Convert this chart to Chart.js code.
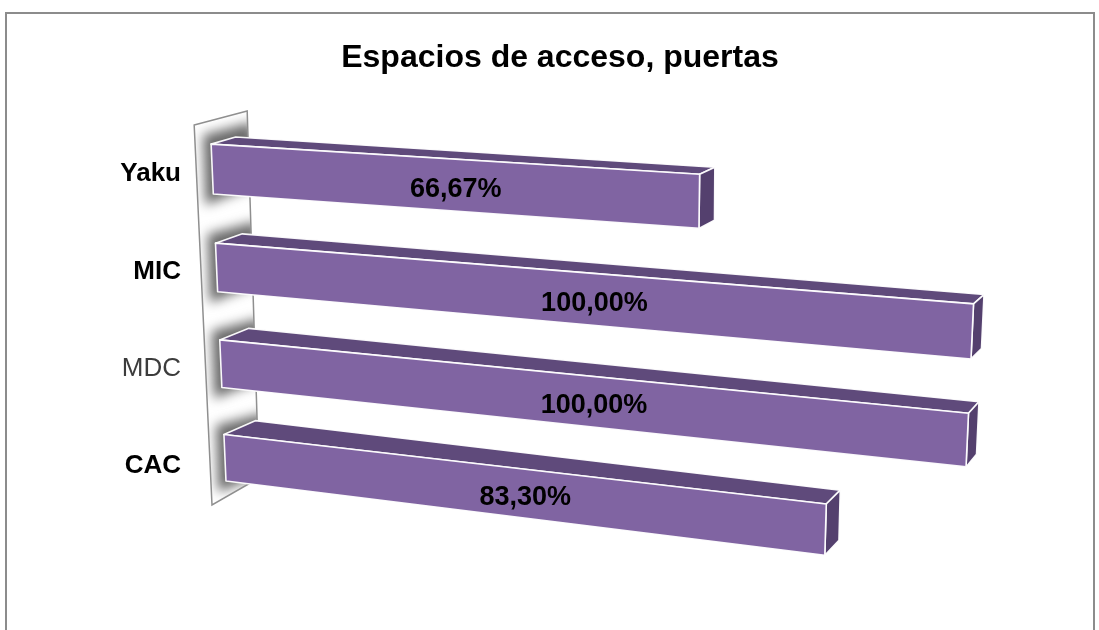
<!DOCTYPE html>
<html lang="es">
<head>
    <meta charset="UTF-8">
    <title>Espacios de acceso, puertas</title>
    <style>
        html, body { margin: 0; padding: 0; background: #fff; }
        #marco {
            position: absolute; left: 5px; top: 12px;
            width: 1090px; height: 700px;
            border: 2px solid #8c8c8c; box-sizing: border-box;
        }
        #lienzo { position: absolute; left: 0; top: 0; }
    </style>
</head>
<body>

<div id="marco"></div>
<canvas id="lienzo" width="1099" height="630"></canvas>

<script src="https://cdn.jsdelivr.net/npm/chart.js@4.4.1/dist/chart.umd.min.js"></script>
<script>
    // datos
    const sitios = ['Yaku', 'MIC', 'MDC', 'CAC'];
    const porcentajes = [66.67, 100, 100, 83.30];
    const rango = [0, 100];

    const fuente = "'Liberation Sans', Arial, Helvetica, sans-serif";

    // esquinas del plano frontal en pantalla: (0,0) (1,0) (1,1) (0,1)
    const vista = [[210, 119], [980, 163], [960, 598], [227, 504]];

    // homografia cuadrado unidad -> cuadrilatero
    function homografia(q) {
        const [x0, y0] = q[0], [x1, y1] = q[1], [x2, y2] = q[2], [x3, y3] = q[3];
        const dx1 = x1 - x2, dx2 = x3 - x2, dx3 = x0 - x1 + x2 - x3;
        const dy1 = y1 - y2, dy2 = y3 - y2, dy3 = y0 - y1 + y2 - y3;
        const den = dx1 * dy2 - dx2 * dy1;
        const g = (dx3 * dy2 - dx2 * dy3) / den;
        const h = (dx1 * dy3 - dx3 * dy1) / den;
        const a = x1 - x0 + g * x1, b = x3 - x0 + h * x3, c = x0;
        const d = y1 - y0 + g * y1, e = y3 - y0 + h * y3, f = y0;
        return function (u, v) {
            const w = g * u + h * v + 1;
            return [(a * u + b * v + c) / w, (d * u + e * v + f) / w];
        };
    }
    const proy = homografia(vista);

    // desplazamiento de la cara trasera (profundidad de la barra)
    function fondo(t, s) {
        const p = proy(t, s);
        const dx = (24 + 9 * s) * (1 - t) + 10.5 * t;
        const dy = -(6.5 + 9 * s);
        return [p[0] + dx, p[1] + dy];
    }

    function poligono(ctx, pts) {
        ctx.beginPath();
        ctx.moveTo(pts[0][0], pts[0][1]);
        for (let i = 1; i < pts.length; i++) ctx.lineTo(pts[i][0], pts[i][1]);
        ctx.closePath();
    }

    function geometria(chart) {
        const area = chart.chartArea;
        const T = x => (x - area.left) / (area.right - area.left);
        const S = y => (y - area.top) / (area.bottom - area.top);
        const meta = chart.getDatasetMeta(0);
        return meta.data.map(function (el, i) {
            const p = el.getProps(['x', 'y', 'base', 'height'], true);
            return {
                t0: T(p.base), t1: T(p.x),
                s0: S(p.y - p.height / 2), s1: S(p.y + p.height / 2),
                valor: chart.data.datasets[0].data[i]
            };
        });
    }

    const barras3d = {
        id: 'barras3d',
        beforeDatasetsDraw(chart) {
            const ctx = chart.ctx;
            const barras = geometria(chart);

            // pared lateral
            const f0 = proy(0, 0.01), f1 = proy(0, 1);
            const pared = [
                [f0[0] - 16, f0[1] + 2], [f0[0] + 37, f0[1] - 12],
                [f1[0] + 32, f1[1] - 26], [f1[0] - 15, f1[1] + 1]
            ];
            ctx.save();
            poligono(ctx, pared);
            ctx.fillStyle = '#ffffff';
            ctx.fill();
            ctx.clip();
            // sombra difusa donde apoya cada barra
            ctx.filter = 'blur(6px)';
            ctx.fillStyle = 'rgba(105,105,105,1)';
            barras.forEach(function (b) {
                const a = proy(0, b.s0), c = proy(0, b.s1);
                poligono(ctx, [
                    [a[0] - 8, a[1] - 9], [a[0] + 42, a[1] - 22],
                    [c[0] + 42, c[1] - 8], [c[0] - 8, c[1] + 11]
                ]);
                ctx.fill();
            });
            ctx.restore();

            ctx.save();
            poligono(ctx, pared);
            ctx.strokeStyle = '#8f8f8f';
            ctx.lineWidth = 1.5;
            ctx.stroke();
            ctx.restore();
        },
        afterDatasetsDraw(chart) {
            const ctx = chart.ctx;
            const barras = geometria(chart);
            ctx.save();
            ctx.lineJoin = 'round';
            ctx.strokeStyle = 'rgba(255,255,255,0.95)';
            ctx.lineWidth = 1.6;
            barras.forEach(function (b) {
                const ft0 = proy(b.t0, b.s0), ft1 = proy(b.t1, b.s0);
                const fb0 = proy(b.t0, b.s1), fb1 = proy(b.t1, b.s1);
                const bt0 = fondo(b.t0, b.s0), bt1 = fondo(b.t1, b.s0);
                const bb1 = fondo(b.t1, b.s1);

                // cara superior
                poligono(ctx, [ft0, ft1, bt1, bt0]);
                ctx.fillStyle = '#5f4a7b';
                ctx.fill();
                ctx.stroke();
                // extremo
                poligono(ctx, [ft1, bt1, bb1, fb1]);
                ctx.fillStyle = '#54406e';
                ctx.fill();
                ctx.stroke();
                // frente
                poligono(ctx, [ft0, ft1, fb1, fb0]);
                ctx.fillStyle = '#8064a2';
                ctx.fill();
                ctx.stroke();

                // etiqueta de valor
                const cx = (ft0[0] + ft1[0] + fb0[0] + fb1[0]) / 4;
                const cy = (ft0[1] + ft1[1] + fb0[1] + fb1[1]) / 4 + 4;
                ctx.fillStyle = '#000';
                ctx.font = 'bold 27px ' + fuente;
                ctx.textAlign = 'center';
                ctx.textBaseline = 'middle';
                ctx.fillText(b.valor.toFixed(2).replace('.', ',') + '%', cx, cy);
            });
            ctx.restore();
        }
    };

    new Chart(document.getElementById('lienzo'), {
        type: 'bar',
        data: {
            labels: sitios,
            datasets: [{
                data: porcentajes,
                backgroundColor: 'rgba(0,0,0,0)',
                borderWidth: 0,
                barPercentage: 0.5,
                categoryPercentage: 1
            }]
        },
        options: {
            indexAxis: 'y',
            responsive: false,
            animation: false,
            events: [],
            layout: { padding: { left: 21, right: 0, top: 0, bottom: 115 } },
            plugins: {
                legend: { display: false },
                tooltip: { enabled: false },
                title: {
                    display: true,
                    text: 'Espacios de acceso, puertas',
                    color: '#000',
                    font: { family: fuente, size: 32, weight: 'bold' },
                    padding: { top: 39, bottom: 48 }
                }
            },
            scales: {
                x: { display: false, min: rango[0], max: rango[1] },
                y: {
                    grid: { display: false },
                    border: { display: false },
                    afterFit(scale) { scale.width = 177; },
                    ticks: {
                        padding: 9,
                        color: ctx => ctx.tick && ctx.tick.label === 'MDC' ? '#3c3c3c' : '#000',
                        font: ctx => ({
                            family: fuente,
                            size: 26,
                            weight: ctx.tick && ctx.tick.label === 'MDC' ? 'normal' : 'bold'
                        })
                    }
                }
            }
        },
        plugins: [barras3d]
    });
</script>
</body>
</html>
